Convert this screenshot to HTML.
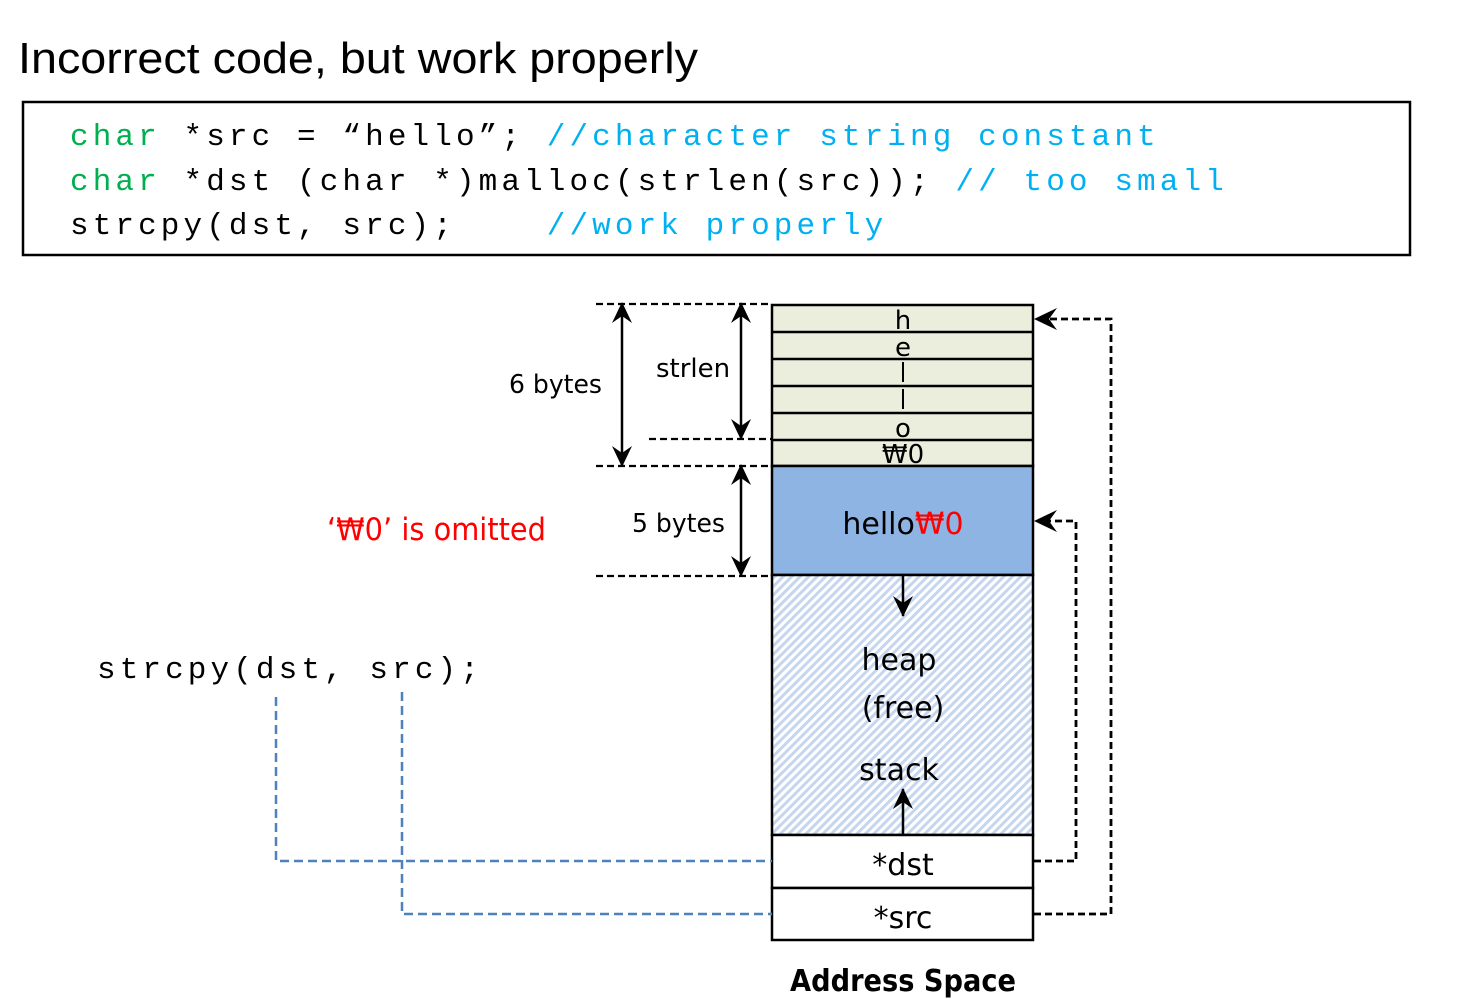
<!DOCTYPE html>
<html><head><meta charset="utf-8"><style>
html,body{margin:0;padding:0;background:#fff;}
svg{display:block}
.m{font-family:"Liberation Mono",monospace;font-size:31px;letter-spacing:4.1px;white-space:pre}
.s{font-family:"DejaVu Sans","Liberation Sans",sans-serif;}
</style></head><body>
<svg width="1478" height="999" viewBox="0 0 1478 999" xmlns="http://www.w3.org/2000/svg">
<defs>
<pattern id="h" width="6" height="6" patternUnits="userSpaceOnUse" patternTransform="rotate(45)">
<rect width="6" height="6" fill="#fff"/><rect width="3" height="6" fill="#c5d6ee"/>
</pattern>
<marker id="a" markerWidth="24" markerHeight="20" refX="20" refY="10" orient="auto-start-reverse" markerUnits="userSpaceOnUse">
<path d="M0,0 L21,10 L0,20 L7,10 Z" fill="#000"/></marker>
</defs>
<text x="18" y="73" font-family="Liberation Sans,sans-serif" font-size="44" textLength="680" lengthAdjust="spacingAndGlyphs">Incorrect code, but work properly</text>
<rect x="23" y="102" width="1387" height="153" fill="none" stroke="#000" stroke-width="2.5"/>
<text class="m" x="70" y="145" xml:space="preserve"><tspan fill="#00b050">char</tspan> *src = “hello”; <tspan fill="#00b0f0">//character string constant</tspan></text>
<text class="m" x="70" y="190" xml:space="preserve"><tspan fill="#00b050">char</tspan> *dst (char *)malloc(strlen(src)); <tspan fill="#00b0f0">// too small</tspan></text>
<text class="m" x="70" y="234" xml:space="preserve">strcpy(dst, src);    <tspan fill="#00b0f0">//work properly</tspan></text>
<text class="m" x="97" y="678" xml:space="preserve">strcpy(dst, src);</text>

<g stroke="#000" stroke-width="2.5">
<rect x="772" y="305" width="261" height="161" fill="#ebeedd"/>
<line x1="772" y1="332" x2="1033" y2="332"/><line x1="772" y1="359" x2="1033" y2="359"/>
<line x1="772" y1="386" x2="1033" y2="386"/><line x1="772" y1="413" x2="1033" y2="413"/>
<line x1="772" y1="440" x2="1033" y2="440"/>
<rect x="772" y="466" width="261" height="109" fill="#8eb4e3"/>
<rect x="772" y="575" width="261" height="260" fill="url(#h)"/>
<rect x="772" y="835" width="261" height="53" fill="#fff"/>
<rect x="772" y="888" width="261" height="52" fill="#fff"/>
</g>
<g class="s" font-size="26" text-anchor="middle">
<text x="903" y="329">h</text><text x="903" y="356">e</text>
<line x1="903" y1="362" x2="903" y2="382" stroke="#000" stroke-width="2"/>
<line x1="903" y1="389" x2="903" y2="409" stroke="#000" stroke-width="2"/>
<text x="903" y="437">o</text><text x="903" y="463">₩0</text>
<text x="903" y="534" font-size="30">hello<tspan fill="#f00">₩0</tspan></text>
<text x="899" y="670" font-size="30">heap</text>
<text x="903" y="718" font-size="30">(free)</text>
<text x="899" y="780" font-size="30">stack</text>
<text x="903" y="875" font-size="30">*dst</text>
<text x="903" y="928" font-size="30">*src</text>
<text x="903" y="991" font-size="30" font-weight="bold" textLength="226" lengthAdjust="spacingAndGlyphs">Address Space</text>
</g>
<g stroke="#000" stroke-width="2.5">
<line x1="903" y1="576" x2="903" y2="616" marker-end="url(#a)"/>
<line x1="903" y1="834" x2="903" y2="789" marker-end="url(#a)"/>
<line x1="622" y1="303" x2="622" y2="466" marker-start="url(#a)" marker-end="url(#a)"/>
<line x1="741" y1="303" x2="741" y2="439" marker-start="url(#a)" marker-end="url(#a)"/>
<line x1="741" y1="465" x2="741" y2="576" marker-start="url(#a)" marker-end="url(#a)"/>
</g>
<g stroke="#000" stroke-width="2.2" stroke-dasharray="7,4" fill="none">
<line x1="596" y1="304" x2="772" y2="304"/>
<line x1="649" y1="439" x2="772" y2="439"/>
<line x1="596" y1="466" x2="772" y2="466"/>
<line x1="596" y1="576" x2="772" y2="576"/>
<polyline points="1034,861 1076,861 1076,521 1045,521" stroke-width="2.8"/>
<polyline points="1034,914 1111,914 1111,319 1045,319" stroke-width="2.8"/>
</g>
<path d="M1034,521 L1057,510 L1049,521 L1057,532 Z" fill="#000"/>
<path d="M1034,319 L1057,308 L1049,319 L1057,330 Z" fill="#000"/>
<g stroke="#4f81bd" stroke-width="2.5" stroke-dasharray="9,5" fill="none">
<polyline points="276,697 276,861 772,861"/>
<polyline points="402,692 402,914 772,914"/>
</g>
<g class="s" font-size="26">
<text x="509" y="393" textLength="93" lengthAdjust="spacingAndGlyphs">6 bytes</text>
<text x="656" y="377">strlen</text>
<text x="632" y="532" textLength="93" lengthAdjust="spacingAndGlyphs">5 bytes</text>
<text x="327" y="540" font-size="31" fill="#f00" textLength="219" lengthAdjust="spacingAndGlyphs">‘₩0’ is omitted</text>
</g>
</svg>
</body></html>
